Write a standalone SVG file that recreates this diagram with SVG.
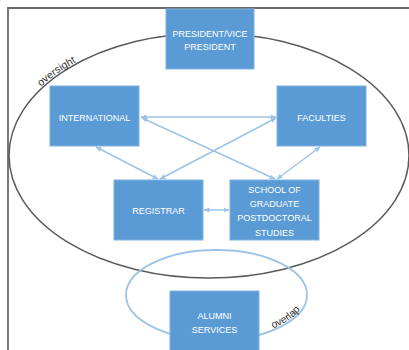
<svg xmlns="http://www.w3.org/2000/svg" width="409" height="350" viewBox="0 0 409 350">
<defs>
<style>
.box{fill:#5b9bd5;stroke:#7fb1e0;stroke-width:1}
.lbl{fill:#ffffff;font-family:"Liberation Sans",Arial,sans-serif;font-size:9px;text-anchor:middle}
.conn{stroke:#9dc3e6;stroke-width:1.5;fill:none;marker-start:url(#ah);marker-end:url(#ah)}
.note{fill:#333333;font-family:"Liberation Sans",Arial,sans-serif;font-size:10.5px}
</style>
<marker id="ah" viewBox="0 0 6 6" refX="5.5" refY="3" markerWidth="6" markerHeight="6" markerUnits="userSpaceOnUse" orient="auto-start-reverse">
<path d="M0,0.5 L6,3 L0,5.5 Z" fill="#9dc3e6"/>
</marker>
<path id="bigArc" d="M9,155 A200,122 0 0 1 209,33"/>
<path id="smallArc" d="M216.5,340 A90.5,45 0 0 0 307,295"/>
</defs>
<rect width="409" height="350" fill="#ffffff"/>
<path d="M8,350 V8 H409" fill="none" stroke="#6b6b6b" stroke-width="1.8"/>
<g id="oversight-ellipse">
<ellipse cx="209" cy="155.5" rx="200" ry="122.5" fill="none" stroke="#5a5a5a" stroke-width="1.5"/>
<text class="note" dy="-1.5"><textPath href="#bigArc" startOffset="77">oversight</textPath></text>
</g>
<g id="overlap-ellipse">
<ellipse cx="216.5" cy="295" rx="90.5" ry="45" fill="none" stroke="#9dc3e6" stroke-width="1.8"/>
<text class="note" dy="-1.5"><textPath href="#smallArc" startOffset="58">overlap</textPath></text>
</g>
<g id="connectors">
<line class="conn" x1="141" y1="117" x2="276" y2="117"/>
<line class="conn" x1="142" y1="118" x2="275" y2="179"/>
<line class="conn" x1="276" y1="118" x2="160" y2="179"/>
<line class="conn" x1="96" y1="147" x2="158" y2="179"/>
<line class="conn" x1="320" y1="147" x2="277" y2="179"/>
<line class="conn" x1="204" y1="210" x2="229" y2="210"/>
</g>
<g id="president">
<rect class="box" x="166" y="9" width="88" height="60"/>
<text class="lbl" x="210" y="36.5">PRESIDENT/VICE</text>
<text class="lbl" x="210" y="50">PRESIDENT</text>
</g>
<g id="international">
<rect class="box" x="50" y="86" width="89" height="60"/>
<text class="lbl" x="94.5" y="120.5">INTERNATIONAL</text>
</g>
<g id="faculties">
<rect class="box" x="277" y="86" width="89" height="60"/>
<text class="lbl" x="321.5" y="120.5">FACULTIES</text>
</g>
<g id="registrar">
<rect class="box" x="114" y="180" width="89" height="60"/>
<text class="lbl" x="158.5" y="213.5">REGISTRAR</text>
</g>
<g id="school">
<rect class="box" x="230" y="180" width="89" height="60"/>
<text class="lbl" x="274.5" y="192.5">SCHOOL OF</text>
<text class="lbl" x="274.5" y="206.5">GRADUATE</text>
<text class="lbl" x="274.5" y="221">POSTDOCTORAL</text>
<text class="lbl" x="274.5" y="235.5">STUDIES</text>
</g>
<g id="alumni">
<rect class="box" x="170" y="291" width="89" height="62"/>
<text class="lbl" x="214.5" y="318.5">ALUMNI</text>
<text class="lbl" x="214.5" y="332.5">SERVICES</text>
</g>
</svg>
